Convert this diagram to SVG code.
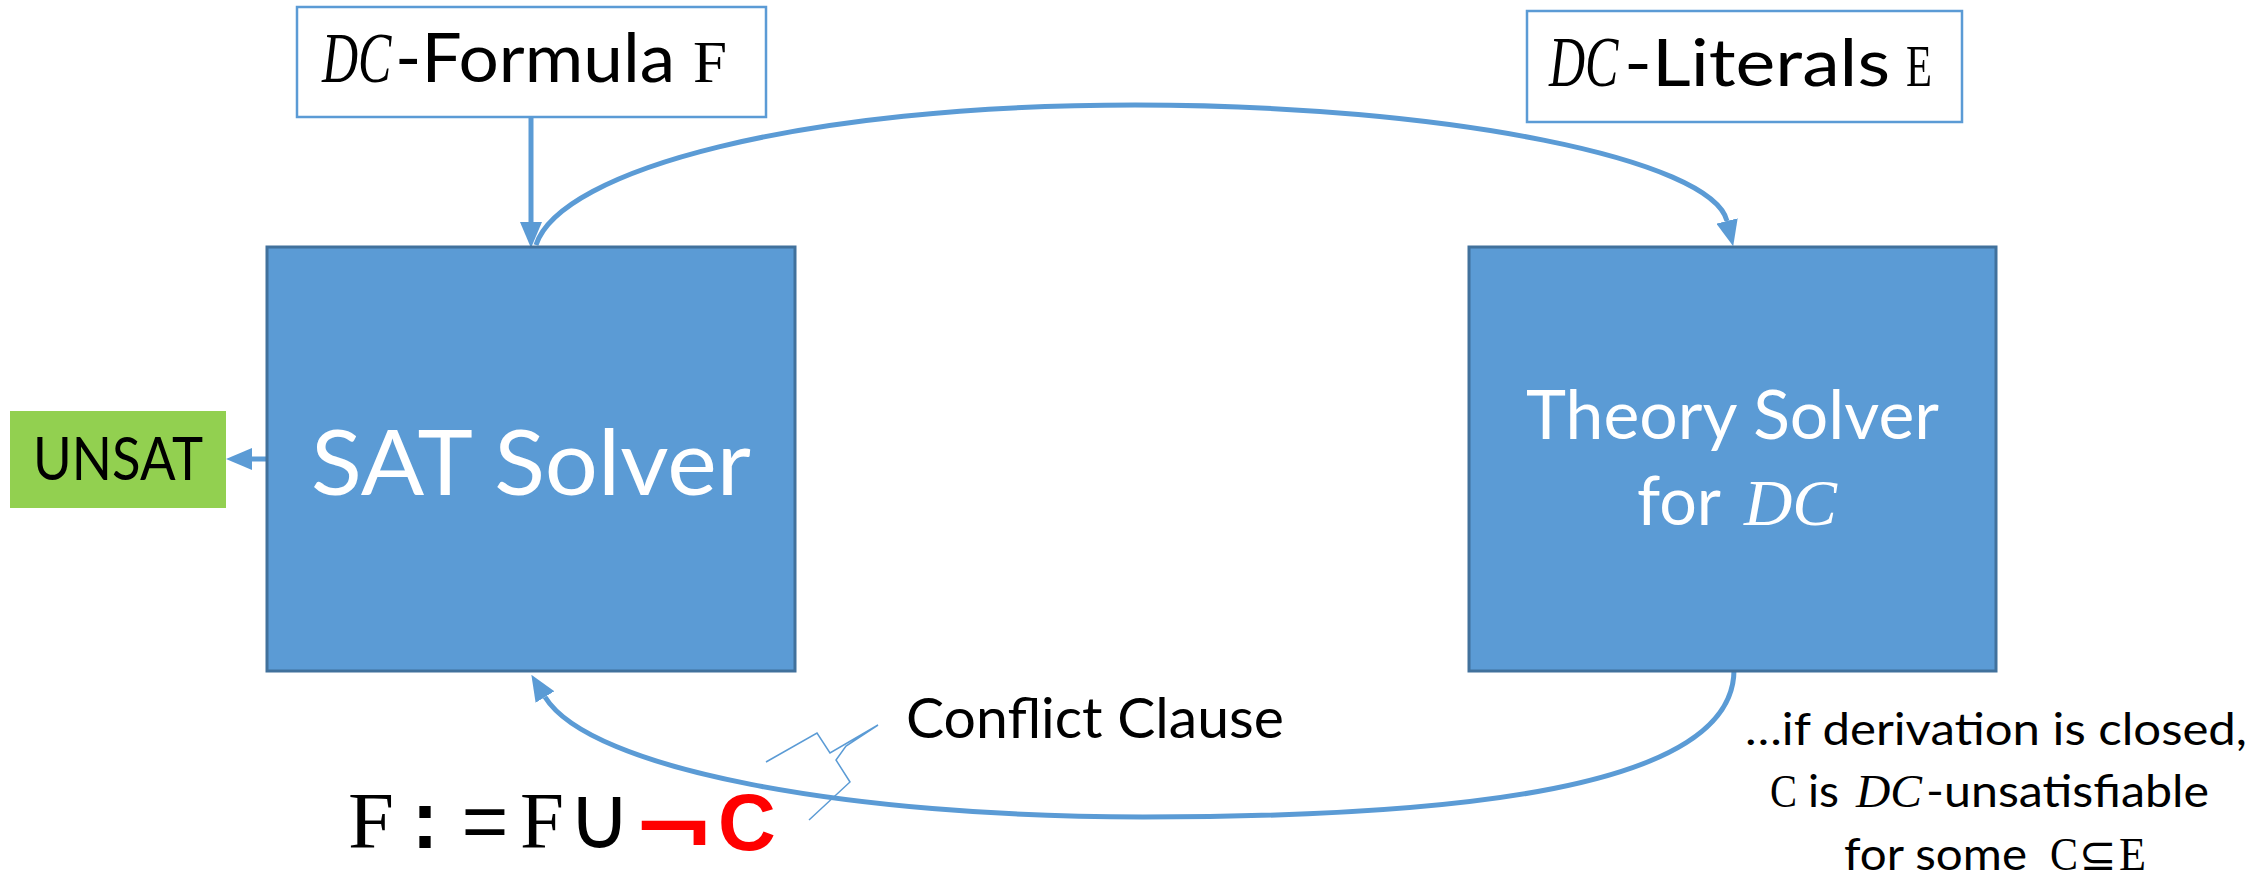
<svg xmlns="http://www.w3.org/2000/svg" width="2266" height="880" viewBox="0 0 2266 880">
<style>
.sans{font-family:Lato,"Open Sans","Liberation Sans",sans-serif}
.cal{font-family:"Liberation Serif","DejaVu Serif",serif;font-style:italic}
.tt{font-family:"Liberation Serif","DejaVu Serif",serif}
.mono{font-family:"Liberation Mono","DejaVu Sans Mono",monospace}
.sym{font-family:"DejaVu Sans",sans-serif}
.conn{fill:none;stroke:#5B9BD5;stroke-width:5}
.inbox{fill:#FFFFFF;stroke:#5B9BD5;stroke-width:2.5}
.solver{fill:#5B9BD5;stroke:#41719C;stroke-width:3}
.w{fill:#FFFFFF}
.k{fill:#000000}
.red{fill:#FF0000}
</style>
<defs>
<marker id="ah" viewBox="0 0 26 22" refX="0" refY="11" markerWidth="26" markerHeight="22" markerUnits="userSpaceOnUse" orient="auto">
<path d="M0,0 L26,11 L0,22 z" fill="#5B9BD5"/>
</marker>
</defs>

<g id="connectors">
<line class="conn" x1="531" y1="117" x2="531" y2="222" stroke-width="4" marker-end="url(#ah)"/>
<path class="conn" d="M536,245 C560,170 800,105 1135,105 C1450,105 1712,160 1727,221" marker-end="url(#ah)"/>
<path class="conn" d="M1734,670 C1734,790 1450,817 1143,817 C850,817 590,770 545,697" marker-end="url(#ah)"/>
<line class="conn" x1="268" y1="459" x2="252" y2="459" marker-end="url(#ah)"/>
</g>

<g id="n-formula">
<rect class="inbox" x="297" y="7" width="469" height="110"/>
<text class="cal k" transform="translate(322,82) scale(1,1.45)" x="0" y="0" font-size="50">DC</text>
<text class="sans k" x="395" y="82" font-size="67" textLength="280" lengthAdjust="spacingAndGlyphs">-Formula</text>
<text class="tt k" x="693" y="82" font-size="60" textLength="34" lengthAdjust="spacingAndGlyphs">F</text>
</g>

<g id="n-literals">
<rect class="inbox" x="1527" y="11" width="435" height="111"/>
<text class="cal k" transform="translate(1549,86) scale(1,1.45)" x="0" y="0" font-size="50">DC</text>
<text class="sans k" x="1624" y="86" font-size="66" textLength="266" lengthAdjust="spacingAndGlyphs">-Literals</text>
<text class="tt k" x="1906" y="86" font-size="60" textLength="26" lengthAdjust="spacingAndGlyphs">E</text>
</g>

<g id="n-sat">
<rect class="solver" x="267" y="247" width="528" height="424"/>
<text class="sans w" x="311" y="495" font-size="92" textLength="440" lengthAdjust="spacingAndGlyphs">SAT Solver</text>
</g>

<g id="n-theory">
<rect class="solver" x="1469" y="247" width="527" height="424"/>
<text class="sans w" x="1526" y="439" font-size="68" textLength="413" lengthAdjust="spacingAndGlyphs">Theory Solver</text>
<text class="sans w" x="1637" y="525" font-size="68" textLength="84" lengthAdjust="spacingAndGlyphs">for</text>
<text class="cal w" x="1744" y="525" font-size="66" textLength="93" lengthAdjust="spacingAndGlyphs">DC</text>
</g>

<g id="n-unsat">
<rect x="10" y="411" width="216" height="97" fill="#92D050"/>
<text class="sans k" x="33" y="480" font-size="60" textLength="170" lengthAdjust="spacingAndGlyphs">UNSAT</text>
</g>

<g id="label-conflict">
<polyline points="766,762 817,733 830,753 878,725 846,746 836,760 850,782 809,820" fill="none" stroke="#5B9BD5" stroke-width="1.5"/>
<text class="sans k" x="906" y="738" font-size="56" textLength="378" lengthAdjust="spacingAndGlyphs">Conflict Clause</text>
</g>

<g id="label-update">
<text class="tt k" x="348" y="848" font-size="80" textLength="46" lengthAdjust="spacingAndGlyphs">F</text>
<text class="mono k" x="401" y="848" font-size="80" font-weight="bold">:</text>
<text class="mono k" x="461" y="848" font-size="80" textLength="48" lengthAdjust="spacingAndGlyphs">=</text>
<text class="tt k" x="520" y="848" font-size="80" textLength="44" lengthAdjust="spacingAndGlyphs">F</text>
<text class="sym k" x="567" y="848" font-size="88">∪</text>
<text class="sym red" x="631" y="856" font-size="80" font-weight="bold" textLength="85" lengthAdjust="spacingAndGlyphs">¬</text>
<text class="red" x="718" y="850" font-size="80" font-weight="bold" font-family="'Liberation Sans',Arial,sans-serif">C</text>
</g>

<g id="label-note">
<text class="sans k" x="1745" y="745" font-size="45" textLength="502" lengthAdjust="spacingAndGlyphs">…if derivation is closed,</text>
<text class="tt k" x="1770" y="807" font-size="46" textLength="27" lengthAdjust="spacingAndGlyphs">C</text>
<text class="sans k" x="1808" y="807" font-size="45" textLength="31" lengthAdjust="spacingAndGlyphs">is</text>
<text class="cal k" x="1856" y="807" font-size="46" textLength="66" lengthAdjust="spacingAndGlyphs">DC</text>
<text class="sans k" x="1926" y="807" font-size="45" textLength="283" lengthAdjust="spacingAndGlyphs">-unsatisfiable</text>
<text class="sans k" x="1844" y="870" font-size="45" textLength="183" lengthAdjust="spacingAndGlyphs">for some</text>
<text class="tt k" x="2050" y="870" font-size="46" textLength="28" lengthAdjust="spacingAndGlyphs">C</text>
<text class="sym k" x="2079" y="870" font-size="45">⊆</text>
<text class="tt k" x="2119" y="870" font-size="46" textLength="27" lengthAdjust="spacingAndGlyphs">E</text>
</g>
</svg>
